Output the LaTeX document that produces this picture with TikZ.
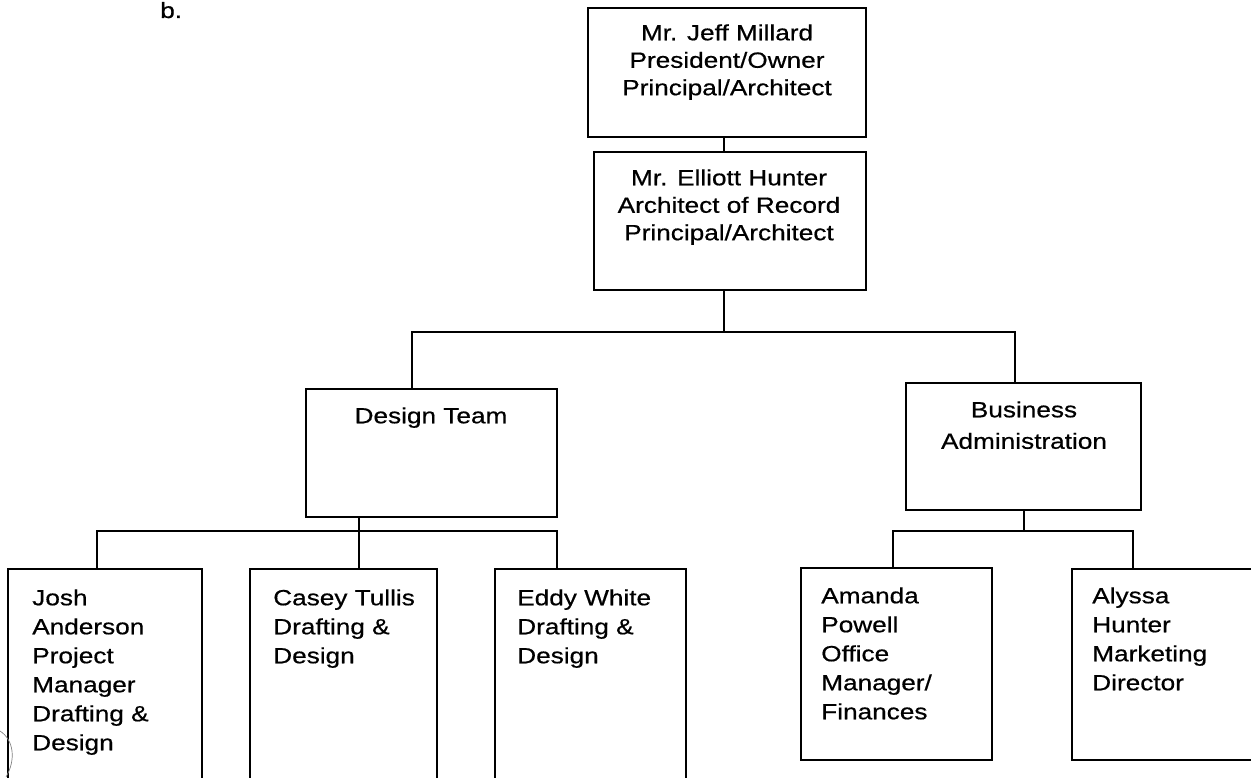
\documentclass[tikz,border=0pt]{standalone}
\usepackage{fontspec}
\setmainfont{Liberation Sans}[FakeStretch=1.19, FakeBold=0.6]
\usetikzlibrary{fit}
\newcommand\ftop{\fontsize{16.5pt}{20.6pt}\selectfont}
\newcommand\fbus{\fontsize{16.5pt}{23.6pt}\selectfont}
\newcommand\fbot{\fontsize{16.5pt}{21.75pt}\selectfont}
\tikzset{
  box/.style={draw, line width=2pt, inner sep=0pt, rectangle},
  conn/.style={line width=1.4pt},
  ctxt/.style={inner sep=0pt, anchor=north, align=center},
  ltxt/.style={inner sep=0pt, anchor=north west, align=left},
}
\begin{document}
\begin{tikzpicture}[x=0.75pt, y=-0.75pt]
\useasboundingbox (0,0) rectangle (1251,777);
\clip (0,0) rectangle (1251,777);

% label
\node[inner sep=0pt, anchor=base west, font=\fbot] (lbl) at (160,18) {b.};

% boxes
\node[box, fit={(588,8) (866,137)}] (jeff) {};
\node[box, fit={(594,152) (866,290)}] (elliott) {};
\node[box, fit={(306,389) (557,517)}] (design) {};
\node[box, fit={(906,383) (1141,510)}] (business) {};
\node[box, fit={(8,569) (202,800)}] (josh) {};
\node[box, fit={(250,569) (437,800)}] (casey) {};
\node[box, fit={(495,569) (686,800)}] (eddy) {};
\node[box, fit={(801,568) (992,760)}] (amanda) {};
\node[box, fit={(1072,569) (1280,760)}] (alyssa) {};

% texts
\node[ctxt, font=\ftop] (tjeff) at (727,20.8) {\strut Mr. Jeff Millard\\President/Owner\\Principal/Architect};
\node[ctxt, font=\ftop] (telliott) at (729,165.8) {\strut Mr. Elliott Hunter\\Architect of Record\\Principal/Architect};
\node[ctxt, font=\ftop] (tdesign) at (431,403.8) {\strut Design Team};
\node[ctxt, font=\fbus] (tbusiness) at (1024,395) {\strut Business\\Administration};
\node[ltxt, font=\fbot] (tjosh) at (32,584.7) {\strut Josh\\Anderson\\Project\\Manager\\Drafting \&\\Design};
\node[ltxt, font=\fbot] (tcasey) at (273,584.7) {\strut Casey Tullis\\Drafting \&\\Design};
\node[ltxt, font=\fbot] (teddy) at (517,584.7) {\strut Eddy White\\Drafting \&\\Design};
\node[ltxt, font=\fbot] (tamanda) at (821,582.7) {\strut Amanda\\Powell\\Office\\Manager/\\Finances};
\node[ltxt, font=\fbot] (talyssa) at (1092,582.7) {\strut Alyssa\\Hunter\\Marketing\\Director};

% junction coordinates
\coordinate (tm) at (724,332);
\coordinate (tl) at (412,332);
\coordinate (tr) at (1015,332);
\coordinate (dm) at (359,531);
\coordinate (dl) at (97,531);
\coordinate (dr) at (557,531);
\coordinate (bm) at (1024,531);
\coordinate (bl) at (893,531);
\coordinate (br) at (1133,531);

% connectors
\draw[conn] (jeff.south -| tm) -- (elliott.north -| tm);
\draw[conn] (elliott.south -| tm) -- (tm);
\draw[conn] (design.north -| tl) -- (tl) -- (tr) -- (business.north -| tr);
\draw[conn] (design.south -| dm) -- (dm);
\draw[conn] (josh.north -| dl) -- (dl) -- (dr) -- (eddy.north -| dr);
\draw[conn] (dm) -- (casey.north -| dm);
\draw[conn] (business.south -| bm) -- (bm);
\draw[conn] (amanda.north -| bl) -- (bl) -- (br) -- (alyssa.north -| br);

% scan artifact curve
\draw[gray, line width=0.5pt] (0,731) .. controls (14,740) and (16,760) .. (6,777);
\end{tikzpicture}
\end{document}
